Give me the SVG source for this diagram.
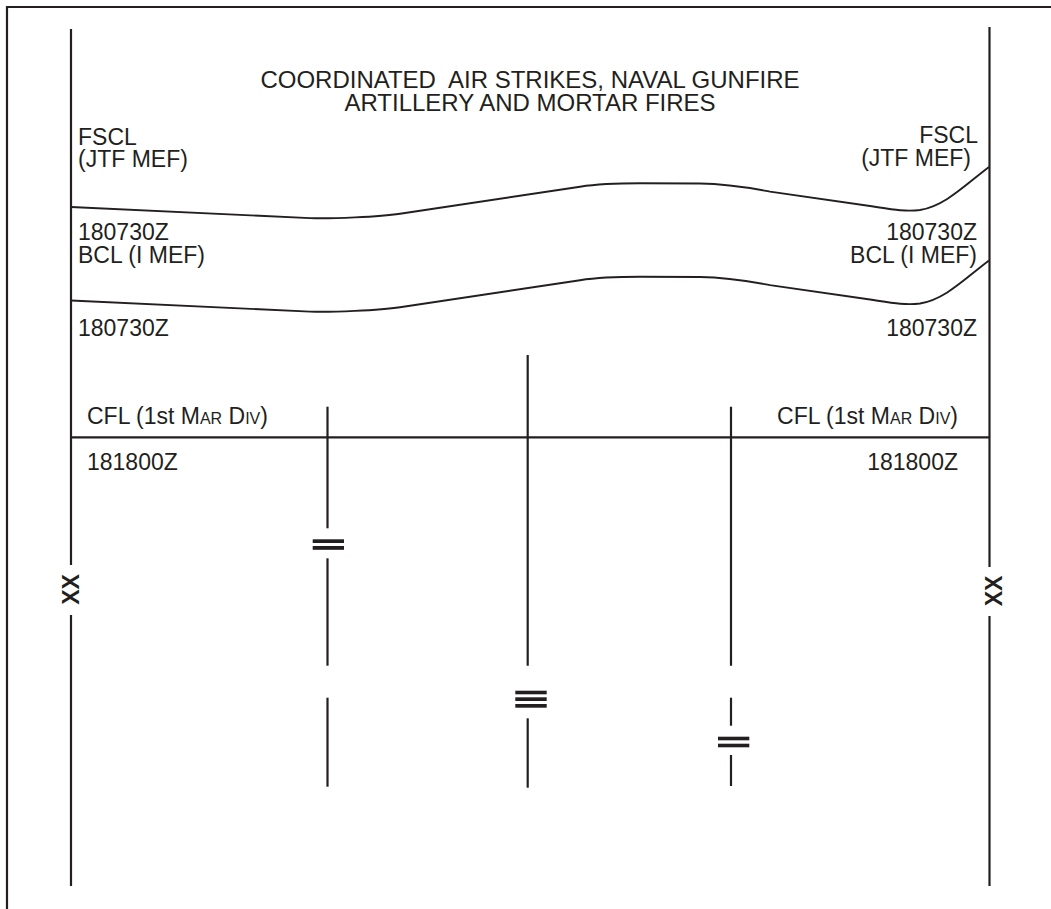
<svg xmlns="http://www.w3.org/2000/svg" width="1051" height="909" viewBox="0 0 1051 909">
<style>
  .t { font-family: "Liberation Sans", Arial, Helvetica, sans-serif; font-size: 23px; fill: #231f20; }
  .title { font-size: 24px; white-space: pre; }
  .sc { font-size: 16px; }
  .xx { font-family: "Liberation Sans", Arial, Helvetica, sans-serif; font-size: 23px; font-weight: bold; fill: #231f20; }
  .ln { stroke: #231f20; stroke-width: 2.2; fill: none; }
  .cv { stroke: #231f20; stroke-width: 1.9; fill: none; }
  .bar { fill: #231f20; }
</style>
<rect x="0" y="0" width="1051" height="909" fill="#ffffff"/>
<path class="ln" d="M7,909 L7,7 L1051,7"/>

<g id="title">
  <text class="t title" x="530" y="87.5" text-anchor="middle" xml:space="preserve">COORDINATED  AIR STRIKES, NAVAL GUNFIRE</text>
  <text class="t title" x="530" y="110.5" text-anchor="middle">ARTILLERY AND MORTAR FIRES</text>
</g>

<g id="left-boundary">
  <line class="ln" x1="71" y1="29" x2="71" y2="565"/>
  <line class="ln" x1="71" y1="615" x2="71" y2="886"/>
  <text class="xx" transform="translate(71,589.5) rotate(-90)" x="0" y="8.2" text-anchor="middle">XX</text>
</g>

<g id="right-boundary">
  <line class="ln" x1="989.5" y1="27" x2="989.5" y2="567"/>
  <line class="ln" x1="989.5" y1="616" x2="989.5" y2="886"/>
  <text class="xx" transform="translate(993.5,591) rotate(-90)" x="0" y="8.2" text-anchor="middle">XX</text>
</g>

<g id="fscl">
  <path class="cv" d="M71,207 L310,218.1 C330,219 380,216.7 400,213.7 L580,186.7 C595,184.45 620,183.3 640,183.3 L700,183.5 C730,183.8 750,188 770,191.6 L870,206 C890,209 905,212 920,210 C945,206 965,185 989,167"/>
  <text class="t" x="78" y="145">FSCL</text>
  <text class="t" x="78" y="167">(JTF MEF)</text>
  <text class="t" x="978" y="143" text-anchor="end">FSCL</text>
  <text class="t" x="971" y="166" text-anchor="end">(JTF MEF)</text>
  <text class="t" x="78" y="240">180730Z</text>
  <text class="t" x="977" y="240" text-anchor="end">180730Z</text>
</g>

<g id="bcl">
  <path class="cv" transform="translate(0,93.5)" d="M71,207 L310,218.1 C330,219 380,216.7 400,213.7 L580,186.7 C595,184.45 620,183.3 640,183.3 L700,183.5 C730,183.8 750,188 770,191.6 L870,206 C890,209 905,212 920,210 C945,206 965,185 989,167"/>
  <text class="t" x="78" y="263">BCL (I MEF)</text>
  <text class="t" x="977" y="263" text-anchor="end">BCL (I MEF)</text>
  <text class="t" x="78" y="336">180730Z</text>
  <text class="t" x="977" y="336" text-anchor="end">180730Z</text>
</g>

<g id="cfl">
  <line class="ln" x1="71" y1="437.3" x2="989" y2="437.3"/>
  <text class="t" x="87" y="424.3">CFL (1st M<tspan class="sc">AR</tspan> D<tspan class="sc">IV</tspan>)</text>
  <text class="t" x="958" y="424.3" text-anchor="end">CFL (1st M<tspan class="sc">AR</tspan> D<tspan class="sc">IV</tspan>)</text>
  <text class="t" x="87" y="470">181800Z</text>
  <text class="t" x="958" y="470" text-anchor="end">181800Z</text>
</g>

<g id="unit-boundaries">
  <g id="boundary-left">
    <line class="ln" x1="327.5" y1="406.7" x2="327.5" y2="528.3"/>
    <rect class="bar" x="312.7" y="539.3" width="31.3" height="3.7"/>
    <rect class="bar" x="312.7" y="546" width="31.3" height="3.8"/>
    <line class="ln" x1="327.5" y1="558.3" x2="327.5" y2="665.7"/>
    <line class="ln" x1="327.5" y1="697.7" x2="327.5" y2="786.7"/>
  </g>
  <g id="boundary-center">
    <line class="ln" x1="527.7" y1="355" x2="527.7" y2="665.7"/>
    <rect class="bar" x="515.3" y="690.7" width="31.4" height="3.6"/>
    <rect class="bar" x="515.3" y="697.3" width="31.4" height="3.7"/>
    <rect class="bar" x="515.3" y="704" width="31.4" height="3.7"/>
    <line class="ln" x1="527.7" y1="718.3" x2="527.7" y2="787.7"/>
  </g>
  <g id="boundary-right">
    <line class="ln" x1="731" y1="406.7" x2="731" y2="665.7"/>
    <line class="ln" x1="731" y1="697.7" x2="731" y2="725.7"/>
    <rect class="bar" x="718" y="736.7" width="31.3" height="3.6"/>
    <rect class="bar" x="718" y="743.7" width="31.3" height="3.6"/>
    <line class="ln" x1="731" y1="755" x2="731" y2="786"/>
  </g>
</g>
</svg>
